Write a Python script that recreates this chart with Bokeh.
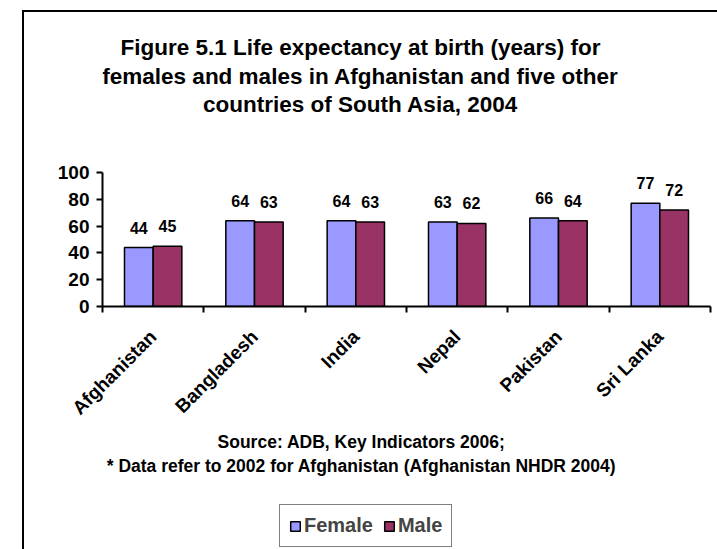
import math
from bokeh.plotting import figure
from bokeh.layouts import column
from bokeh.models import (ColumnDataSource, FactorRange, Range1d, LinearAxis, FixedTicker,
                          Label, Legend, LegendItem)
from bokeh.transform import dodge
from bokeh.core.properties import value
from bokeh.embed import file_html
from bokeh.resources import INLINE

# ---- data ----
countries = ["Afghanistan", "Bangladesh", "India", "Nepal", "Pakistan", "Sri Lanka"]
female = [44, 64, 64, 63, 66, 77]
male = [45, 63, 63, 62, 64, 72]
y_ticks = [0, 20, 40, 60, 80, 100]
title_lines = [
    "Figure 5.1 Life expectancy at birth (years) for",
    "females and males in Afghanistan and five other",
    "countries of South Asia, 2004",
]
source_lines = [
    "Source: ADB, Key Indicators 2006;",
    "* Data refer to 2002 for Afghanistan (Afghanistan NHDR 2004)",
]
series_names = ["Female", "Male"]
colors = ["#9999FF", "#993366"]

# ---- layout (page pixels) ----
X0, Y0 = 24, 12                 # inside the chart-area border line
W = 717 - X0
TOP_H, MAIN_H = 138, 279
BOT_H = 549 - Y0 - TOP_H - MAIN_H
MAIN_Y0 = Y0 + TOP_H
BOT_Y0 = MAIN_Y0 + MAIN_H
FL, FR, FT, FB = 102, 710, 172, 306   # plot frame (shared horizontally by the column)
FONT = "Liberation Sans"
n = len(countries)


def blank(height, y0):
    # frames in a column are aligned with the main plot's frame (FL..FR)
    f = figure(width=W, height=height, x_range=Range1d(FL, FR), y_range=Range1d(y0 + height, y0),
               x_axis_location=None, y_axis_location=None, title=None,
               output_backend="svg", toolbar_location=None, min_border=0)
    f.outline_line_color = None
    f.xgrid.visible = False
    f.ygrid.visible = False
    f.background_fill_color = "white"
    f.border_fill_color = "white"
    return f


def label(text, x, y, size):
    return Label(x=x, y=y, text=text, text_align="center", text_baseline="middle",
                 text_font=FONT, text_font_style="bold", text_font_size=size, text_color="black")


# ---- top: title ----
top = blank(TOP_H, Y0)
for t, py in zip(title_lines, [46.5, 75.5, 104]):
    top.add_layout(label(t, 360, py, "22.5px"))

# ---- main chart ----
src = ColumnDataSource(dict(
    country=countries, female=female, male=male,
    female_txt=[str(v) for v in female], male_txt=[str(v) for v in male],
))

p = figure(width=W, height=MAIN_H,
           x_range=FactorRange(factors=countries, range_padding=0),
           y_range=Range1d(0, 100),
           x_axis_location=None, title=None,
           output_backend="svg", toolbar_location=None,
           min_border_left=FL - X0, min_border_right=X0 + W - FR,
           min_border_top=FT - MAIN_Y0, min_border_bottom=BOT_Y0 - FB)
p.outline_line_color = None
p.xgrid.visible = False
p.ygrid.visible = False
p.background_fill_color = "white"
p.border_fill_color = "white"

BW = 0.283
OFF = BW / 2
r1 = p.vbar(x=dodge("country", -OFF, range=p.x_range), top="female", width=BW, source=src,
            fill_color=colors[0], line_color="black", line_width=1.5)
r2 = p.vbar(x=dodge("country", OFF, range=p.x_range), top="male", width=BW, source=src,
            fill_color=colors[1], line_color="black", line_width=1.5)

for off, col in [(-OFF, "female"), (OFF, "male")]:
    p.text(x=dodge("country", off, range=p.x_range), y=col, text=col + "_txt", source=src,
           text_font=value(FONT), text_font_style="bold", text_font_size="16px",
           text_align="center", text_baseline="middle", y_offset=-20, text_color="black")

ya = p.yaxis[0]
ya.ticker = FixedTicker(ticks=y_ticks, minor_ticks=[])
ya.axis_line_width = 2
ya.axis_line_color = "black"
ya.major_tick_line_width = 2
ya.major_tick_out = 6
ya.major_tick_in = 0
ya.minor_tick_line_color = None
ya.major_label_text_font = FONT
ya.major_label_text_font_style = "bold"
ya.major_label_text_font_size = "19px"
ya.major_label_text_color = "black"
ya.major_label_standoff = 7

# x axis: labels at category centres, tick marks at category boundaries
xa = LinearAxis(
    ticker=FixedTicker(ticks=[i + 0.5 for i in range(n)], minor_ticks=list(range(n + 1))),
    major_label_overrides={i + 0.5: c for i, c in enumerate(countries)},
)
xa.axis_line_width = 2
xa.axis_line_color = "black"
xa.major_tick_line_color = None
xa.major_tick_out = 0
xa.major_tick_in = 0
xa.minor_tick_line_color = "black"
xa.minor_tick_line_width = 2
xa.minor_tick_out = 6
xa.minor_tick_in = 0
xa.major_label_orientation = math.pi / 4
xa.major_label_text_font = FONT
xa.major_label_text_font_style = "bold"
xa.major_label_text_font_size = "19px"
xa.major_label_text_color = "black"
xa.major_label_standoff = 21
p.add_layout(xa, "below")

# ---- bottom: source notes and legend ----
bot = blank(BOT_H, BOT_Y0)
for t, py in zip(source_lines, [441, 465]):
    bot.add_layout(label(t, 361, py, "17.5px"))

# hidden legend proxies (used only to draw the legend key swatches)
proxies = [bot.vbar(x=[0], top=[0], width=0.1, fill_color=c, line_color="black", line_width=1.5,
                    visible=False)
           for c in colors]
legend = Legend(items=[LegendItem(label=s, renderers=[r]) for s, r in zip(series_names, proxies)],
                orientation="horizontal", location=(279 - FL, 549 - 547))
legend.border_line_color = "black"
legend.border_line_width = 1.5
legend.background_fill_color = "white"
legend.background_fill_alpha = 1
legend.label_text_font = FONT
legend.label_text_font_style = "bold"
legend.label_text_font_size = "20px"
legend.glyph_width = 12
legend.glyph_height = 12
legend.label_standoff = 3
legend.spacing = 10
legend.padding = 9
legend.margin = 0
bot.add_layout(legend)

layout = column(top, p, bot, spacing=0, margin=(10, 0, 0, 22),
                styles={"border-left": "2px solid black", "border-top": "2px solid black"})

open("out.html", "w").write(file_html(layout, INLINE))
